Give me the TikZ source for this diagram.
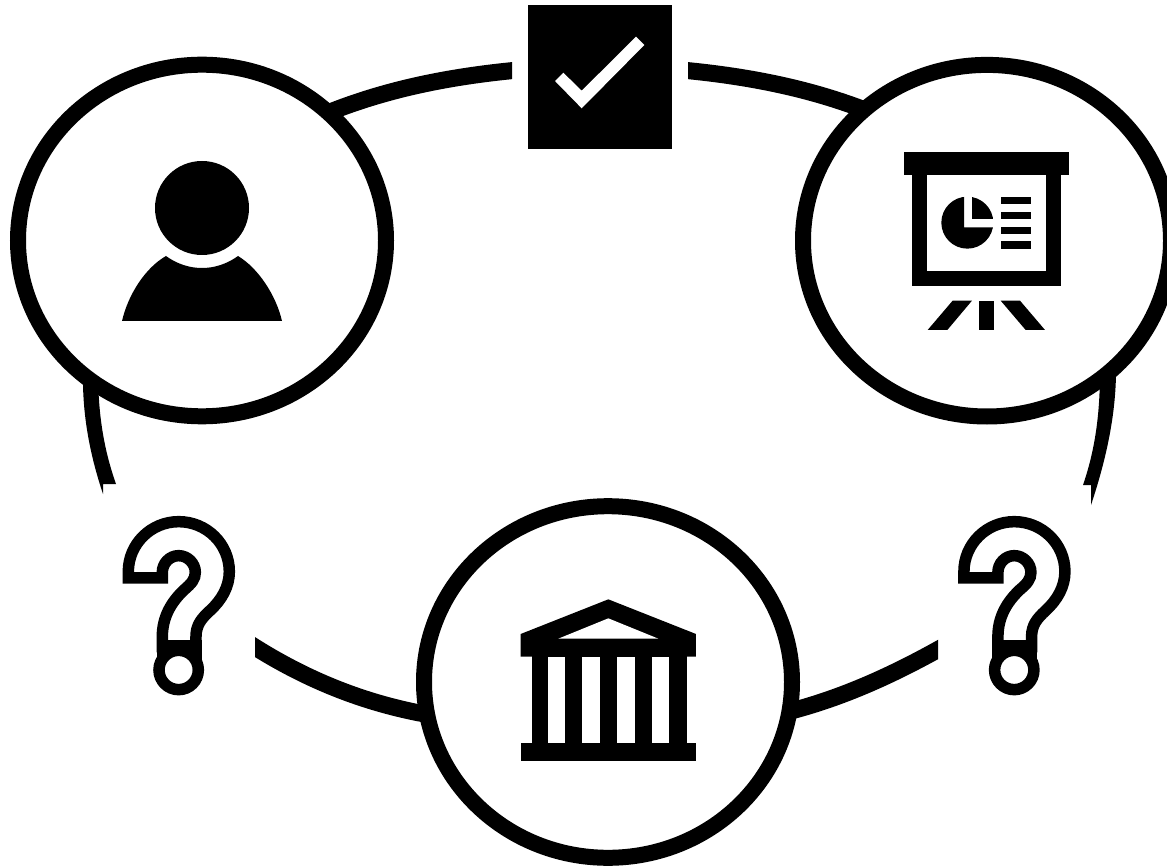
\documentclass[tikz,border=0pt]{standalone}
\usetikzlibrary{shapes.geometric}
\tikzset{
  x=1pt,y=-1pt,
  ring/.style={draw=black,fill=white,ellipse,line width=16pt,inner sep=0pt,minimum width=368pt,minimum height=351.6pt},
  band/.style={line width=17pt,line cap=butt,draw=black},
  ink/.style={fill=black,draw=none},
  qmark/.pic={
    \begin{scope}[scale=0.3333]
      \draw[line width=11.5pt,miter limit=10,line join=miter]
        (145,324) -- (145,305) .. controls (145,222) and (213,155) .. (296,155)
        .. controls (380,155) and (448,222) .. (448,305)
        .. controls (448,350) and (425,390) .. (390,422)
        .. controls (365,445) and (348,465) .. (348,500) -- (348,530)
        -- (247,530) -- (247,500)
        .. controls (247,440) and (275,395) .. (312,360)
        .. controls (335,340) and (346,328) .. (346,307)
        .. controls (346,280) and (323,257) .. (296,257)
        .. controls (269,257) and (247,280) .. (247,307) -- (247,324) -- cycle;
      \fill[black] (230,510) rectangle (365,580);
      \draw[line width=11.5pt,fill=white] (296,600) circle (59);
    \end{scope}
  }
}
\begin{document}
\begin{tikzpicture}
\useasboundingbox (0,0) rectangle (1167,866);
% named ends of the connectors
\coordinate (tl0) at (300,125);
\coordinate (tr1) at (900,125);
\coordinate (bl1) at (450,718);
\coordinate (br1) at (770,716);
% connectors
\begin{scope}
  \clip (200,0) rectangle (512,200);
  \draw[band] (tl0) .. controls (370,92) and (445,76) .. (530,69);
\end{scope}
\begin{scope}
  \clip (688,0) rectangle (1000,200);
  \draw[band] (670,69) .. controls (755,76) and (830,92) .. (tr1);
\end{scope}
\begin{scope}
  \clip (255,600) rectangle (500,760);
  \draw[band] (235,634) .. controls (305,682) and (375,708) .. (bl1);
\end{scope}
\begin{scope}
  \clip (700,600) rectangle (938,760);
  \draw[band] (960,637) .. controls (895,675) and (835,702) .. (br1);
\end{scope}
\fill[black] (83,370) .. controls (82,415) and (90,455) .. (103,494) -- (103,484) -- (116,484)
  .. controls (104,450) and (98,415) .. (98,370) -- cycle;
\fill[black] (1116,370) .. controls (1116,415) and (1106,460) .. (1091,505) -- (1091,485) -- (1083,485)
  .. controls (1095,450) and (1100,415) .. (1100,370) -- cycle;
% circles
\node[ring] (person) at (202,240.5) {};
\node[ring] (screen) at (987,240.7) {};
\node[ring] (bank) at (608,682) {};
% check box
\node[ink,minimum size=144pt,inner sep=0pt] (check) at (600,77) {};
\fill[white] (555,81) -- (563.3,72.7) -- (581.7,90.7) -- (636,36.7) -- (644.3,45) -- (581.7,108.3) -- cycle;
% person icon
\fill[black] (202,208) circle (47);
\fill[black] (122,321) .. controls (128,295) and (145,268) .. (166,256)
  .. controls (188,272) and (216,272) .. (238,256)
  .. controls (258,268) and (276,295) .. (282,321) -- cycle;
% presentation icon
\begin{scope}[shift={(880,130)},scale=0.3333]
  \fill[black] (72,66) rectangle (566,134);
  \fill[black] (95,134) rectangle (543,468);
  \fill[white] (140,134) rectangle (499,424);
  \begin{scope}
    \clip (262,278) circle (78);
    \fill[black] (150,150) -- (252,150) -- (252,292) -- (400,292) -- (400,400) -- (150,400) -- cycle;
    \fill[black] (275,150) rectangle (400,268);
  \end{scope}
  \fill[black] (364,200) rectangle (454,222);
  \fill[black] (364,245) rectangle (454,266);
  \fill[black] (364,290) rectangle (454,311);
  \fill[black] (364,334) rectangle (454,357);
  \fill[black] (218,512) -- (276,512) -- (202,600) -- (143,600) -- cycle;
  \fill[black] (298,512) rectangle (342,600);
  \fill[black] (362,512) -- (420,512) -- (495,600) -- (437,600) -- cycle;
\end{scope}
% bank icon
\begin{scope}[shift={(500,580)},scale=0.3333]
  \fill[black] (325,58) -- (588,162) -- (588,230) -- (62,230) -- (62,162) -- cycle;
  \fill[white] (325,115) -- (475,176) -- (175,176) -- cycle;
  \fill[black] (95,229) rectangle (560,491);
  \fill[black] (62,490) rectangle (588,542);
  \foreach \a/\b in {143/195,247/300,351/405,457/508} \fill[white] (\a,230) rectangle (\b,490);
\end{scope}
% question marks
\pic (qa) at (80,470) {qmark};
\pic (qb) at (915.6,470) {qmark};
\end{tikzpicture}
\end{document}
